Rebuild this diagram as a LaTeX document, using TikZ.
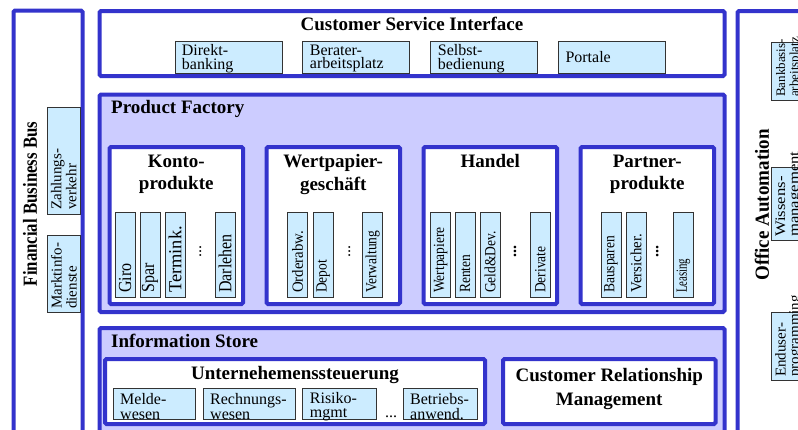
\documentclass[tikz,border=0pt]{standalone}
\usepackage{fontspec}
\setmainfont{Liberation Serif}
\usetikzlibrary{calc}
\definecolor{fbblue}{RGB}{51,51,204}
\definecolor{lav}{RGB}{204,204,255}
\definecolor{lcyan}{RGB}{204,236,255}
\begin{document}
\begin{tikzpicture}[x=1pt,y=-1pt,
  big/.style={draw=fbblue,line width=4pt,rounded corners=1.5pt,anchor=north west,inner sep=0pt,outer sep=0pt,fill=white},
  lavbox/.style={big,fill=lav},
  sub/.style={draw=black!80,line width=1pt,fill=lcyan,anchor=north west,inner sep=0pt,outer sep=0pt},
  vsub/.style={sub,minimum width=20pt,minimum height=85pt},
  hsub/.style={sub,minimum height=32pt},
  ttl/.style={font=\fontsize{19}{22.7}\selectfont\bfseries,inner sep=0pt,align=center},
  txt/.style={font=\fontsize{16}{13.5}\selectfont,inner sep=0pt,align=left,anchor=west},
  vtxt/.style={rotate=90,anchor=west,inner sep=0pt,font=\fontsize{16}{13}\selectfont,align=left},
  ptxt/.style={vtxt,yscale=1.15},
  stxt/.style={ptxt,font=\fontsize{13.5}{13}\selectfont},
  vttl/.style={rotate=90,inner sep=0pt,font=\fontsize{20}{20}\selectfont\bfseries},
]
\useasboundingbox (0,0) rectangle (798,429);
\fill[white] (0,0) rectangle (798,429);
\clip (0,0) rectangle (798,429);

% ---------- main frames
\node[big, minimum width=69pt, minimum height=450pt] (bus) at (13.5,10.5) {};
\node[big, minimum width=625pt, minimum height=65pt] (csi) at (99.5,11) {};
\node[lavbox, minimum width=625pt, minimum height=217.5pt] (pf) at (99.5,94.5) {};
\node[lavbox, minimum width=625pt, minimum height=140pt] (is) at (99.5,328) {};
\node[big, minimum width=100pt, minimum height=450pt] (oa) at (737.5,11) {};

% ---------- Financial Business Bus
\node[vttl, xscale=0.84] (bus-t) at (30,204) {Financial Business Bus};
\node[sub, minimum width=32.3pt, minimum height=107pt] (zahl) at (47.7,107) {};
\node[sub, minimum width=32.3pt, minimum height=77pt] (markt) at (47.7,235) {};
\node[vtxt, font=\fontsize{15}{15}\selectfont] (zahl-t) at ([yshift=4pt]zahl.south) {Zahlungs-\\verkehr};
\node[vtxt, font=\fontsize{15}{15}\selectfont] (markt-t) at ([yshift=3pt]markt.south) {Marktinfo-\\dienste};

% ---------- Customer Service Interface
\node[ttl, anchor=base] (csi-t) at (412,30.5) {Customer Service Interface};
\node[hsub, minimum width=107pt] (direkt) at (175.7,41) {};
\node[hsub, minimum width=107pt] (berater) at (302.7,41) {};
\node[hsub, minimum width=107pt] (selbst) at (430.7,41) {};
\node[hsub, minimum width=107pt] (portale) at (558.3,41) {};
\node[txt] (direkt-t) at ([xshift=6pt,yshift=-1.5pt]direkt.west) {Direkt-\\banking};
\node[txt] (berater-t) at ([xshift=7pt,yshift=-1.5pt]berater.west) {Berater-\\arbeitsplatz};
\node[txt] (selbst-t) at ([xshift=7pt,yshift=-1.5pt]selbst.west) {Selbst-\\bedienung};
\node[txt] (portale-t) at ([xshift=7pt]portale.west) {Portale};

% ---------- Product Factory
\node[ttl, anchor=base west] (pf-t) at (111,113.5) {Product Factory};
\node[big, minimum width=133.5pt, minimum height=157pt] (konto) at (109.5,147) {};
\node[big, minimum width=133.5pt, minimum height=157pt] (wert) at (266.5,147) {};
\node[big, minimum width=133.5pt, minimum height=157pt] (handel) at (423.5,147) {};
\node[big, minimum width=133.5pt, minimum height=157pt] (partner) at (580.5,147) {};
\node[ttl] (konto-t) at (176.25,174.2) {Konto-\\produkte};
\node[ttl] (wert-t) at (333.25,174.2) {Wertpapier-\\geschäft};
\node[ttl] (handel-t) at (490.25,160.8) {Handel};
\node[ttl] (partner-t) at (647.25,174.2) {Partner-\\produkte};

% Kontoprodukte
\node[vsub] (giro) at (115,212) {};
\node[vsub] (spar) at (140,212) {};
\node[vsub] (termink) at (165,212) {};
\node[vsub] (darlehen) at (215,212) {};
\node[ptxt] (giro-t) at ([yshift=4pt]giro.south) {Giro};
\node[ptxt] (spar-t) at ([yshift=4pt]spar.south) {Spar};
\node[ptxt, xscale=1.15] (termink-t) at ([yshift=4pt]termink.south) {Termink.};
\node[ptxt] (darlehen-t) at ([yshift=4pt]darlehen.south) {Darlehen};
\node[vtxt, anchor=center] (konto-d) at (200.5,251) {...};

% Wertpapiergeschaeft
\node[vsub] (orderabw) at (287.7,212) {};
\node[vsub] (depot) at (313.3,212) {};
\node[vsub] (verwaltung) at (362.7,212) {};
\node[stxt, xscale=1.1] (orderabw-t) at ([yshift=4pt]orderabw.south) {Orderabw.};
\node[stxt] (depot-t) at ([yshift=4pt]depot.south) {Depot};
\node[stxt] (verwaltung-t) at ([yshift=4pt]verwaltung.south) {Verwaltung};
\node[vtxt, anchor=center] (wert-d) at (349.3,251) {...};

% Handel
\node[vsub] (wertpapiere) at (430.7,212) {};
\node[vsub] (renten) at (455,212) {};
\node[vsub] (gelddev) at (480,212) {};
\node[vsub] (derivate) at (530.3,212) {};
\node[stxt] (wertpapiere-t) at ([yshift=4pt]wertpapiere.south) {Wertpapiere};
\node[stxt] (renten-t) at ([yshift=4pt]renten.south) {Renten};
\node[stxt] (gelddev-t) at ([yshift=4pt]gelddev.south) {Geld\&Dev.};
\node[stxt] (derivate-t) at ([yshift=4pt]derivate.south) {Derivate};
\node[vtxt, anchor=center, font=\fontsize{16}{13}\selectfont\bfseries] (handel-d) at (515,251) {...};

% Partnerprodukte
\node[vsub] (bausparen) at (601,212) {};
\node[vsub] (versicher) at (626,212) {};
\node[vsub] (leasing) at (673.3,212) {};
\node[stxt] (bausparen-t) at ([yshift=4pt]bausparen.south) {Bausparen};
\node[stxt, xscale=1.1] (versicher-t) at ([yshift=4pt]versicher.south) {Versicher.};
\node[stxt, xscale=0.8] (leasing-t) at ([yshift=4pt]leasing.south) {Leasing};
\node[vtxt, anchor=center, font=\fontsize{16}{13}\selectfont\bfseries] (partner-d) at (657.3,251) {...};

% ---------- Information Store
\node[ttl, anchor=base west] (is-t) at (111,347) {Information Store};
\node[big, minimum width=380pt, minimum height=65pt] (unter) at (105,359) {};
\node[big, minimum width=212.5pt, minimum height=65pt] (crm) at (503,359) {};
\node[ttl] (unter-t) at (295,374.5) {Unternehemenssteuerung};
\node[ttl, font=\fontsize{19}{23.3}\selectfont\bfseries] (crm-t) at (609.25,388.9) {Customer Relationship\\Management};
\node[sub, minimum width=82pt, minimum height=31pt] (melde) at (113,388) {};
\node[sub, minimum width=92pt, minimum height=31pt] (rechnung) at (203,388) {};
\node[sub, minimum width=74pt, minimum height=31pt] (risiko) at (302.7,388) {};
\node[sub, minimum width=74pt, minimum height=31pt] (betrieb) at (403,388) {};
\node[txt, font=\fontsize{16}{14.3}\selectfont] (melde-t) at ([xshift=7pt,yshift=-3pt]melde.west) {Melde-\\wesen};
\node[txt, font=\fontsize{16}{14.3}\selectfont] (rechnung-t) at ([xshift=7pt,yshift=-3pt]rechnung.west) {Rechnungs-\\wesen};
\node[txt, font=\fontsize{16}{14.3}\selectfont] (risiko-t) at ([xshift=7pt,yshift=-3pt]risiko.west) {Risiko-\\mgmt};
\node[txt, font=\fontsize{16}{14.3}\selectfont] (betrieb-t) at ([xshift=7pt,yshift=-3pt]betrieb.west) {Betriebs-\\anwend.};
\node[anchor=base, inner sep=0pt, font=\fontsize{16}{16}\selectfont] (is-d) at (391,417) {...};

% ---------- Office Automation
\node[vttl, xscale=0.95] (oa-t) at (762,205) {Office Automation};
\node[sub, minimum width=34pt, minimum height=57.3pt] (bank) at (771.7,42.7) {};
\node[sub, minimum width=34pt, minimum height=72.3pt] (wiss) at (771.7,167.7) {};
\node[sub, minimum width=34pt, minimum height=68pt] (endu) at (771.7,312) {};
\node[vtxt, font=\fontsize{13}{13.5}\selectfont] (bank-t) at ([yshift=3pt]bank.south) {Bankbasis-\\arbeitsplatz};
\node[vtxt, font=\fontsize{14.5}{13.5}\selectfont, xscale=1.15] (wiss-t) at ([yshift=3pt]wiss.south) {Wissens-\\management};
\node[vtxt, font=\fontsize{15}{13.5}\selectfont] (endu-t) at ([yshift=3pt]endu.south) {Enduser-\\programming};
\end{tikzpicture}
\end{document}
